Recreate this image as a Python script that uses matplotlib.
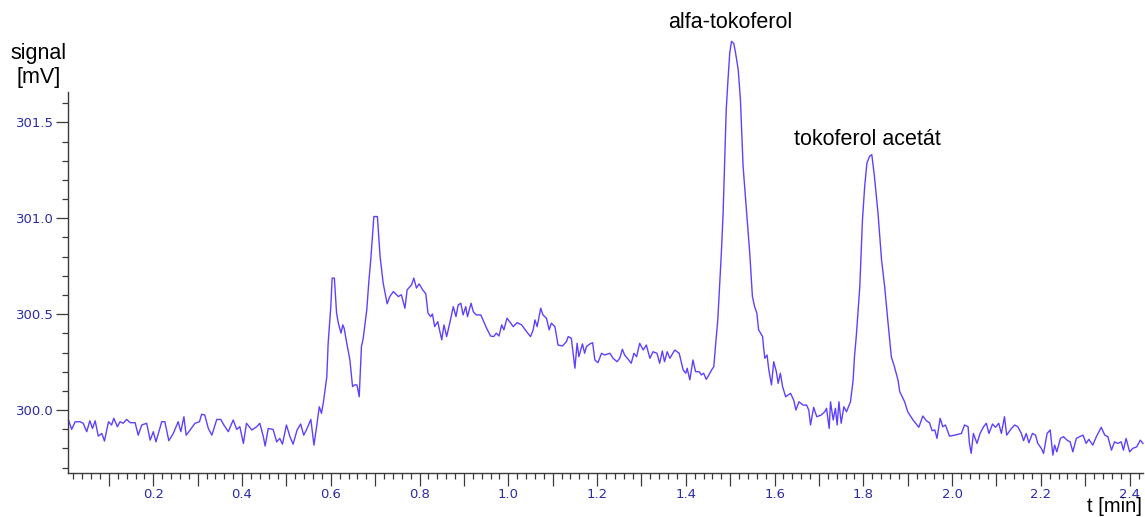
import matplotlib
matplotlib.use("Agg")
import matplotlib.pyplot as plt
from matplotlib.ticker import MultipleLocator, FuncFormatter

plt.rcParams['font.family'] = ['Liberation Sans', 'DejaVu Sans']

# chromatogram trace: time [min] and signal [mV]
t_min = [
    # baseline before injection peak
    0.009, 0.016, 0.024, 0.035, 0.042, 0.050, 0.057, 0.063, 0.069, 0.076,
    0.084, 0.090, 0.099, 0.106, 0.111, 0.119, 0.125, 0.132, 0.140, 0.148,
    0.159, 0.166, 0.174, 0.185, 0.193, 0.200, 0.206, 0.219, 0.226, 0.235,
    0.245, 0.256, 0.262, 0.269, 0.274, 0.283, 0.294, 0.304, 0.309, 0.316,
    0.324, 0.332, 0.343, 0.352, 0.359, 0.369, 0.380, 0.388, 0.395, 0.403,
    0.410, 0.422, 0.433, 0.440, 0.448, 0.452, 0.459, 0.470, 0.478, 0.485,
    0.491, 0.500, 0.508, 0.515, 0.524, 0.532, 0.539, 0.545, 0.555, 0.562,
    0.568, 0.574, 0.579, 0.584,
    # early peaks
    0.591, 0.594, 0.600, 0.603, 0.608, 0.613, 0.617, 0.623, 0.627, 0.630,
    0.636, 0.643, 0.649, 0.653, 0.659, 0.664, 0.669, 0.673, 0.681, 0.686,
    0.690, 0.697, 0.705, 0.711, 0.718, 0.727, 0.733, 0.741, 0.752, 0.759,
    0.767, 0.772, 0.782, 0.787, 0.793, 0.799, 0.807, 0.814, 0.819, 0.825,
    0.829, 0.834, 0.841, 0.844, 0.850, 0.855, 0.861, 0.868, 0.876, 0.882,
    0.887, 0.893, 0.898, 0.904, 0.908, 0.916, 0.921, 0.928, 0.938, 0.943,
    0.951, 0.960, 0.967, 0.973, 0.979, 0.985, 0.990, 0.997, 1.003, 1.011,
    1.020, 1.030, 1.041, 1.050, 1.056, 1.060, 1.065, 1.073, 1.078, 1.086,
    1.092, 1.097, 1.105, 1.112, 1.122, 1.131, 1.135, 1.142, 1.150, 1.155,
    1.159, 1.167, 1.172, 1.176, 1.184, 1.190, 1.195, 1.202, 1.210, 1.217,
    1.229, 1.236, 1.245, 1.251, 1.257, 1.262, 1.270, 1.277, 1.283, 1.289,
    1.296, 1.304, 1.311, 1.319, 1.326, 1.335, 1.341, 1.347, 1.352, 1.358,
    1.364, 1.375, 1.385, 1.394, 1.400, 1.403, 1.409, 1.416, 1.422, 1.430,
    1.435, 1.440, 1.446, 1.452, 1.458, 1.463,
    # alfa-tokoferol
    1.467, 1.472, 1.476, 1.480, 1.484, 1.488, 1.491, 1.495, 1.499, 1.503,
    1.508, 1.512, 1.518, 1.523, 1.529, 1.536, 1.544, 1.550, 1.555, 1.560,
    1.564, 1.573, 1.575, 1.578, 1.583, 1.587, 1.593, 1.598, 1.604, 1.608,
    1.613, 1.618, 1.625, 1.630, 1.636, 1.643, 1.648, 1.655, 1.664, 1.672,
    1.677, 1.681, 1.688, 1.695, 1.705, 1.713, 1.717, 1.723, 1.726, 1.732,
    1.737, 1.741, 1.745, 1.750, 1.756, 1.762, 1.771,
    # tokoferol acetat
    1.777, 1.780, 1.784, 1.792, 1.798, 1.803, 1.808, 1.814, 1.819, 1.825,
    1.833, 1.841, 1.848, 1.855, 1.863, 1.870, 1.878, 1.882, 1.893, 1.900,
    1.912, 1.925, 1.934, 1.942, 1.949, 1.955, 1.961, 1.966, 1.973, 1.979,
    1.985, 1.994, 2.006, 2.021, 2.028, 2.036, 2.039, 2.043, 2.048, 2.056,
    2.063, 2.071, 2.077, 2.083, 2.091, 2.098, 2.105, 2.111, 2.118, 2.123,
    2.132, 2.141, 2.148, 2.156, 2.161, 2.167, 2.173, 2.181, 2.188, 2.193,
    2.201, 2.206, 2.214, 2.221, 2.227, 2.231, 2.236, 2.244, 2.251, 2.259,
    2.266, 2.272, 2.280, 2.287, 2.295, 2.302, 2.308, 2.317, 2.325, 2.336,
    2.344, 2.351, 2.359, 2.366, 2.373, 2.381, 2.386, 2.392, 2.400, 2.407,
    2.416, 2.424, 2.430,
]

signal_mv = [
    299.948, 299.899, 299.939, 299.939, 299.931, 299.887, 299.944, 299.904, 299.944, 299.864,
    299.878, 299.838, 299.939, 299.922, 299.957, 299.913, 299.939, 299.931, 299.951, 299.934,
    299.934, 299.869, 299.922, 299.931, 299.843, 299.887, 299.834, 299.939, 299.939, 299.840,
    299.878, 299.939, 299.887, 299.965, 299.869, 299.896, 299.931, 299.939, 299.978, 299.974,
    299.904, 299.869, 299.951, 299.951, 299.922, 299.887, 299.948, 299.899, 299.913, 299.826,
    299.931, 299.896, 299.913, 299.931, 299.861, 299.812, 299.904, 299.899, 299.834, 299.852,
    299.822, 299.922, 299.861, 299.822, 299.896, 299.927, 299.869, 299.896, 299.951, 299.817,
    299.913, 300.017, 299.983, 300.052,
    300.174, 300.348, 300.539, 300.688, 300.688, 300.505, 300.453, 300.401, 300.444, 300.427,
    300.348, 300.261, 300.122, 300.131, 300.131, 300.069, 300.331, 300.374, 300.522, 300.679,
    300.783, 301.009, 301.009, 300.801, 300.662, 300.554, 300.592, 300.618, 300.592, 300.601,
    300.531, 300.627, 300.653, 300.688, 300.636, 300.658, 300.627, 300.606, 300.505, 300.487,
    300.501, 300.435, 300.461, 300.427, 300.366, 300.444, 300.383, 300.453, 300.539, 300.487,
    300.548, 300.557, 300.496, 300.539, 300.487, 300.557, 300.513, 300.496, 300.496, 300.470,
    300.427, 300.386, 300.383, 300.401, 300.386, 300.444, 300.418, 300.479, 300.461, 300.435,
    300.456, 300.444, 300.409, 300.383, 300.418, 300.470, 300.435, 300.531, 300.496, 300.479,
    300.418, 300.453, 300.435, 300.339, 300.334, 300.357, 300.383, 300.374, 300.218, 300.348,
    300.278, 300.345, 300.296, 300.331, 300.345, 300.351, 300.261, 300.247, 300.296, 300.287,
    300.296, 300.270, 300.252, 300.270, 300.317, 300.287, 300.265, 300.244, 300.296, 300.278,
    300.348, 300.313, 300.339, 300.270, 300.304, 300.296, 300.244, 300.308, 300.252, 300.304,
    300.270, 300.313, 300.296, 300.209, 300.192, 300.218, 300.157, 300.261, 300.200, 300.200,
    300.183, 300.192, 300.160, 300.183, 300.209, 300.226,
    300.339, 300.470, 300.644, 300.818, 301.027, 301.340, 301.567, 301.723, 301.863, 301.923,
    301.911, 301.863, 301.775, 301.619, 301.271, 301.062, 300.818, 300.592, 300.539, 300.505,
    300.418, 300.383, 300.331, 300.270, 300.287, 300.209, 300.131, 300.252, 300.200, 300.139,
    300.192, 300.122, 300.069, 300.078, 300.087, 300.052, 300.000, 300.043, 300.026, 300.026,
    300.000, 299.922, 300.014, 299.965, 299.974, 299.991, 300.009, 299.904, 300.043, 299.948,
    300.009, 299.922, 300.043, 299.931, 300.017, 299.991, 300.043,
    300.157, 300.278, 300.383, 300.644, 300.992, 301.166, 301.288, 301.323, 301.332, 301.218,
    301.027, 300.783, 300.644, 300.470, 300.278, 300.226, 300.157, 300.096, 300.043, 299.991,
    299.948, 299.910, 299.969, 299.944, 299.934, 299.892, 299.896, 299.852, 299.957, 299.913,
    299.922, 299.864, 299.869, 299.878, 299.922, 299.913, 299.826, 299.774, 299.878, 299.826,
    299.878, 299.913, 299.931, 299.878, 299.927, 299.910, 299.931, 299.878, 299.965, 299.869,
    299.899, 299.922, 299.913, 299.878, 299.840, 299.878, 299.829, 299.878, 299.869, 299.826,
    299.800, 299.774, 299.878, 299.896, 299.765, 299.817, 299.782, 299.852, 299.861, 299.843,
    299.834, 299.782, 299.852, 299.861, 299.869, 299.826, 299.847, 299.817, 299.861, 299.910,
    299.869, 299.861, 299.791, 299.834, 299.826, 299.834, 299.791, 299.852, 299.782, 299.800,
    299.808, 299.843, 299.826,
]

peak_names = ["alfa-tokoferol", "tokoferol acetát"]
peak_label_pos = [(1.500, 302.02), (1.810, 301.41)]

line_col = '#6040ff'
tick_col = '#2b2ba8'
axis_col = '#3a3a3a'

fig = plt.figure(figsize=(11.45, 5.17), dpi=100)
ax = fig.add_axes([0.0597, 0.0845, 0.9385, 0.7381])

# the tall peak runs above the top of the axis in the original
ax.plot(t_min, signal_mv, color=line_col, lw=1.0, clip_on=False)

ax.set_xlim(0.0086, 2.43)
ax.set_ylim(299.67, 301.66)

for s in ['top', 'right']:
    ax.spines[s].set_visible(False)
for s in ['left', 'bottom']:
    ax.spines[s].set_color(axis_col)
    ax.spines[s].set_linewidth(1.0)

ax.xaxis.set_major_locator(MultipleLocator(0.1))
ax.xaxis.set_minor_locator(MultipleLocator(0.02))
ax.xaxis.set_major_formatter(FuncFormatter(
    lambda v, p: "%.1f" % v if round(v * 10) % 2 == 0 and v > 0.05 else ""))
ax.yaxis.set_major_locator(MultipleLocator(0.5))
ax.yaxis.set_minor_locator(MultipleLocator(0.1))
ax.yaxis.set_major_formatter(FuncFormatter(lambda v, p: "%.1f" % v))

ax.tick_params(axis='both', which='major', length=9, width=0.9, color=axis_col,
               labelcolor=tick_col, labelsize=9.5, direction='out', pad=1.5)
ax.tick_params(axis='both', which='minor', length=4.5, width=0.9, color=axis_col,
               direction='out')
for lab in ax.get_xticklabels() + ax.get_yticklabels():
    lab.set_family(['DejaVu Sans'])

for name, (tx, ty) in zip(peak_names, peak_label_pos):
    ax.text(tx, ty, name, ha='center', va='center', fontsize=15.5,
            color='black', clip_on=False)

fig.text(39 / 1145, 1 - 53 / 517, "signal", ha='center', va='center', fontsize=15.5)
fig.text(39 / 1145, 1 - 78 / 517, "[mV]", ha='center', va='center', fontsize=15.5)
fig.text(1142 / 1145, 1 / 517, "t [min]", ha='right', va='bottom', fontsize=14.5)

fig.savefig("out.png", dpi=100)
